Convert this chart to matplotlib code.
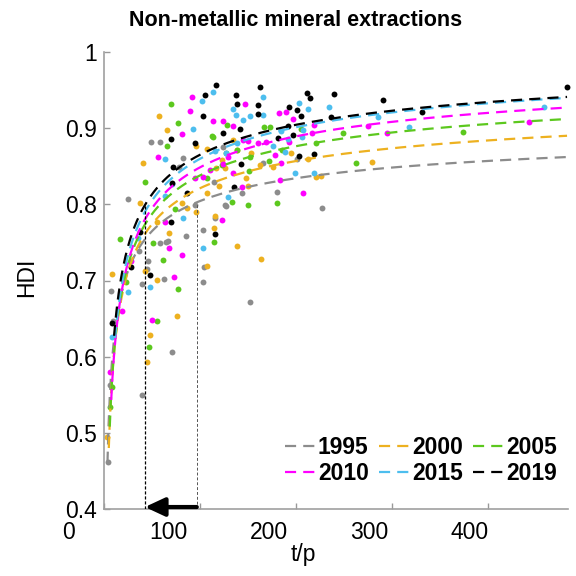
import numpy as np
import matplotlib.pyplot as plt

plt.rcParams['font.family'] = ['Liberation Sans', 'DejaVu Sans']

years = ['1995', '2000', '2005', '2010', '2015', '2019']
colors = ['#8c8c8c', '#EDB120', '#5CC81E', '#FF00FF', '#4DBEEE', '#000000']

## Country points per year (t/p, HDI)
tp_1995 = [48.8, 58.2, 82.0, 123.6, 165.1, 179.7, 64.4, 58.2, 66.5, 85.2, 102.8, 103.8, 115.3, 126.7,
           143.3, 44.7, 24.9, 36.3, 77.9, 200.4, 114.2, 94.5, 45.7, 39.5, 102.8, 70.6, 151.6, 39.5,
           7.3, 4.2, 227.4, 62.3, 125.7, 6.2, 9.3]
hdi_1995 = [0.882, 0.882, 0.861, 0.875, 0.854, 0.816, 0.751, 0.749, 0.752, 0.758, 0.766, 0.718, 0.782, 0.798,
            0.815, 0.715, 0.807, 0.739, 0.849, 0.859, 0.829, 0.799, 0.726, 0.695, 0.698, 0.606, 0.672, 0.550,
            0.686, 0.462, 0.795, 0.702, 0.799, 0.563, 0.647]

tp_2000 = [57.1, 65.4, 40.5, 95.5, 107.0, 116.3, 138.1, 147.5, 162.0, 194.2, 211.9, 221.2, 163.0, 67.5,
           55.0, 81.0, 95.5, 115.3, 114.2, 8.3, 134.0, 152.7, 175.5, 122.5, 125.7, 107.0, 119.4, 149.5,
           37.4, 86.2, 42.6, 55.0, 47.8, 75.8, 44.7, 107.0, 138.1, 3.1, 279.4, 225.4]
hdi_2000 = [0.916, 0.898, 0.854, 0.877, 0.873, 0.848, 0.871, 0.835, 0.852, 0.867, 0.859, 0.836, 0.728, 0.762,
            0.777, 0.802, 0.790, 0.785, 0.769, 0.709, 0.884, 0.867, 0.849, 0.858, 0.848, 0.815, 0.824, 0.824,
            0.802, 0.795, 0.712, 0.701, 0.628, 0.653, 0.593, 0.719, 0.745, 0.495, 0.856, 0.837]

tp_2005 = [69.6, 76.8, 65.4, 113.2, 166.2, 172.4, 204.6, 132.9, 149.5, 179.7, 107.0, 42.6, 114.2, 73.7,
           61.3, 16.6, 126.7, 127.7, 112.2, 220.2, 138.1, 151.6, 171.4, 122.5, 150.6, 249.2, 373.9, 262.7,
           76.8, 55.0, 46.7, 6.2, 8.3, 22.8, 50.9, 184.9]
hdi_2005 = [0.932, 0.907, 0.877, 0.888, 0.901, 0.901, 0.899, 0.803, 0.799, 0.802, 0.835, 0.829, 0.751, 0.794,
            0.727, 0.754, 0.867, 0.904, 0.890, 0.880, 0.871, 0.862, 0.857, 0.852, 0.844, 0.894, 0.895, 0.854,
            0.689, 0.647, 0.613, 0.534, 0.560, 0.698, 0.749, 0.871]

tp_2010 = [91.4, 89.3, 113.2, 146.4, 123.6, 134.0, 144.4, 56.1, 81.0, 123.6, 134.0, 143.3, 102.8, 168.2,
           183.8, 181.7, 189.0, 206.7, 122.5, 63.3, 67.5, 72.7, 28.0, 149.5, 159.9, 177.6, 196.3, 192.1,
           217.0, 110.1, 128.8, 182.8, 219.1, 275.2, 294.9, 442.4, 49.8, 81.0, 18.7, 6.2, 94.5]
hdi_2010 = [0.941, 0.923, 0.909, 0.932, 0.909, 0.903, 0.884, 0.862, 0.892, 0.853, 0.841, 0.823, 0.836, 0.882,
            0.854, 0.920, 0.921, 0.815, 0.779, 0.777, 0.743, 0.705, 0.726, 0.883, 0.880, 0.865, 0.912, 0.882,
            0.894, 0.845, 0.862, 0.832, 0.904, 0.903, 0.894, 0.908, 0.648, 0.733, 0.660, 0.580, 0.835]

tp_2015 = [113.2, 101.8, 92.4, 63.3, 134.0, 137.1, 144.4, 151.6, 165.1, 165.1, 175.5, 191.1, 202.5, 211.9,
           198.4, 219.1, 128.8, 82.0, 102.8, 63.3, 126.7, 138.1, 183.8, 233.7, 285.6, 317.8, 458.0, 206.7,
           205.6, 24.9, 47.8, 8.3, 70.6, 35.3, 188.0, 115.3]
hdi_2015 = [0.947, 0.936, 0.899, 0.859, 0.925, 0.917, 0.911, 0.916, 0.941, 0.917, 0.877, 0.886, 0.933, 0.925,
            0.841, 0.841, 0.810, 0.782, 0.743, 0.811, 0.867, 0.880, 0.896, 0.928, 0.915, 0.901, 0.928, 0.898,
            0.888, 0.685, 0.691, 0.626, 0.827, 0.756, 0.869, 0.870]

tp_2019 = [116.3, 104.9, 102.8, 137.1, 138.2, 141.3, 162.0, 159.9, 159.9, 192.1, 200.4, 204.6, 211.8, 214.9,
           203.5, 219.1, 180.7, 142.3, 135.0, 123.6, 94.5, 71.7, 70.6, 86.2, 69.6, 115.3, 37.4, 28.0,
           47.8, 8.3, 69.6, 239.9, 290.8, 331.3, 236.8, 481.9, 191.1, 196.3]
hdi_2019 = [0.957, 0.944, 0.916, 0.944, 0.932, 0.899, 0.954, 0.930, 0.919, 0.928, 0.924, 0.916, 0.946, 0.940,
            0.863, 0.866, 0.887, 0.853, 0.823, 0.894, 0.880, 0.849, 0.828, 0.815, 0.777, 0.761, 0.764, 0.718,
            0.707, 0.644, 0.886, 0.945, 0.937, 0.921, 0.915, 0.954, 0.903, 0.891]

all_tp = [tp_1995, tp_2000, tp_2005, tp_2010, tp_2015, tp_2019]
all_hdi = [hdi_1995, hdi_2000, hdi_2005, hdi_2010, hdi_2015, hdi_2019]

## Power fits per year: HDI = c - k * (t/p)^b
fit_c = [0.928, 0.9686, 0.9965, 1.0166, 1.031, 1.0276]
fit_k = [0.78, 0.93, 1.0, 1.06, 1.08, 1.025]
fit_b = [-0.4, -0.4, -0.4, -0.4, -0.4, -0.4]
fit_xmin = [3.6, 5.0, 6.0, 7.5, 11.5, 10.5]
fit_xmax = 482

# t/p needed to reach HDI 0.8 in 1995 and 2019
hdi_goal = 0.8
tp_goal_1995 = 96.6
tp_goal_2019 = 42.6

fig = plt.figure(figsize=(5.76, 5.76), dpi=100)
ax = fig.add_axes([104/576, 67/576, 464/576, 457/576])

for i in range(len(years)):
    ax.scatter(all_tp[i], all_hdi[i], s=18, color=colors[i], linewidths=0, zorder=2, clip_on=False)

lines = []
for i in range(len(years)):
    xx = np.linspace(fit_xmin[i], fit_xmax, 400)
    yy = fit_c[i] - fit_k[i] * xx ** fit_b[i]
    l, = ax.plot(xx, yy, color=colors[i], lw=1.6, ls=(0, (5, 3.2)), label=years[i], zorder=3)
    lines.append(l)

# threshold lines and arrow
ax.vlines(tp_goal_2019, 0.4, hdi_goal, color='k', lw=0.9, ls=(0, (2.5, 1.5)), zorder=4)
ax.vlines(tp_goal_1995, 0.4, hdi_goal, color='#555555', lw=0.7, ls=(0, (3, 2)), zorder=4)
ax.annotate('', xy=(tp_goal_2019, 0.4026), xytext=(tp_goal_1995, 0.4026),
            arrowprops=dict(arrowstyle='-|>,head_length=0.6,head_width=0.28', lw=3, color='k',
                            mutation_scale=20, shrinkA=0, shrinkB=0),
            annotation_clip=False, zorder=5)

ax.set_xlim(0, 483)
ax.set_ylim(0.4, 1.0)
ax.set_yticks([0.4, 0.5, 0.6, 0.7, 0.8, 0.9, 1.0])
ax.set_yticklabels(['0.4', '0.5', '0.6', '0.7', '0.8', '0.9', '1'])
ax.set_xticks([0, 100, 200, 300, 400])
ax.set_xticklabels([])
for v in [0, 100, 200, 300, 400]:
    ax.annotate(str(v), xy=(v * 1.043 - 37, 0), xycoords=('data', 'axes fraction'),
                xytext=(0, -8.5), textcoords='offset points', ha='center', va='top',
                fontsize=16.5, annotation_clip=False)

ax.tick_params(axis='both', direction='in', length=4, width=1, color='#999999', labelsize=16.5, pad=5)
for side in ['top', 'right']:
    ax.spines[side].set_visible(False)
for side in ['left', 'bottom']:
    ax.spines[side].set_color('#a0a0a0')
    ax.spines[side].set_linewidth(1.2)

# legend filled row by row: 1995 2000 2005 / 2010 2015 2019
order = [0, 3, 1, 4, 2, 5]
leg = ax.legend([lines[j] for j in order], [years[j] for j in order], ncol=3, loc='lower right',
                bbox_to_anchor=(0.995, 0.032), frameon=False,
                prop={'weight': 'bold', 'size': 16.5}, handlelength=1.3, handletextpad=0.13,
                columnspacing=0.45, labelspacing=0.12, borderaxespad=0)

fig.text(296/576, 1 - 20/576, 'Non-metallic mineral extractions', ha='center', va='center',
         fontsize=15.5, weight='bold')
fig.text(303/576, 1 - 555/576, 't/p', ha='center', va='center', fontsize=16.5)
fig.text(27/576, 1 - 277/576, 'HDI', ha='center', va='center', rotation=90, fontsize=16.5)

fig.savefig('out.png', dpi=100)
